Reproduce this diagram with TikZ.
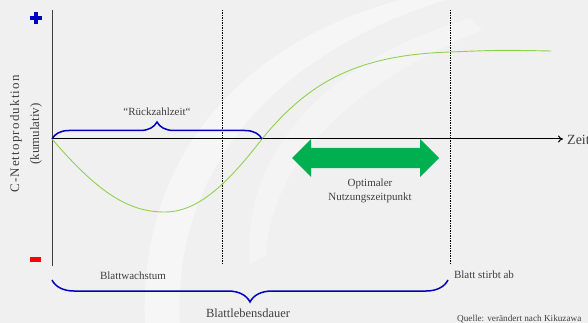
\documentclass[tikz,border=0pt]{standalone}
\usepackage{fontspec}
\setmainfont{Liberation Serif}
\usepackage{xcolor}
\usetikzlibrary{arrows.meta,positioning,calc,decorations.pathreplacing}
\definecolor{bgGray}{HTML}{F0F0F0}
\definecolor{braceBlue}{HTML}{0000C0}
\definecolor{curveGreen}{HTML}{92D050}
\definecolor{arrowGreen}{HTML}{00B050}
\definecolor{textGray}{HTML}{404040}
\tikzset{
  lbl/.style={
    text=textGray,
    font=\fontsize{11}{14}\selectfont,
    align=center,
    inner sep=0pt
  },
  bluebrace/.style={
    draw=braceBlue,
    line width=1.5pt,
    decorate,
    decoration={brace,amplitude=#1}
  },
  marker/.style={draw=black, line width=0.8pt, dash pattern=on 1.5pt off 1pt},
  axisline/.style={draw=textGray, line width=1pt},
  swoosh/.style={fill=white, opacity=0.4}
}

\begin{document}
\begin{tikzpicture}[x=1pt,y=-1pt]
  \fill[bgGray] (0,0) rectangle (588,323);
  \useasboundingbox (0,0) rectangle (588,323);
  % background swooshes
  \fill[swoosh] (145,323) .. controls (138,150) and (250,40) .. (400,0) -- (445,0)
    .. controls (285,50) and (172,160) .. (180,323) -- cycle;
  \fill[swoosh,opacity=0.3] (250,265) .. controls (240,150) and (330,60) .. (470,18) -- (482,30)
    .. controls (350,85) and (272,160) .. (266,255) -- cycle;
  % axes
  \coordinate (origin) at (52,139);
  \coordinate (ytop) at (52,10);
  \coordinate (ybot) at (52,266);
  \coordinate (xend) at (563,139);
  \draw[axisline] (ybot) -- (ytop);
  \draw[line width=1pt,-{To[length=5pt,width=7pt]}] (origin) -- (xend);
  \node[lbl,anchor=west,font=\fontsize{14}{16}\selectfont] (zeit) at (567,140) {Zeit};
  % plus / minus
  \draw[braceBlue,line width=4pt] (30,18) -- (42,18) (36,12) -- (36,24);
  \fill[red] (30,257) rectangle (41,261.5);
  \node[lbl,rotate=90,font=\fontsize{13}{20}\selectfont] (ylabel) at (26,134)
    {\addfontfeature{LetterSpace=9}C-Nettoproduktion\\(kumulativ)};
  % markers
  \coordinate (growend) at (222,10);
  \coordinate (death) at (450,10);
  \draw[marker] (growend) -- ++(0,255);
  \draw[marker] (death) -- ++(0,255);
  % carbon curve
  \draw[curveGreen,line width=0.9pt] (origin)
    .. controls (100,195) and (130,212) .. (165,212)
    .. controls (200,212) and (230,180) .. (262,139)
    .. controls (310,80) and (360,55) .. (450,52)
    .. controls (500,50) .. (551,51);
  % payback
  \coordinate (payback) at (262,139);
  \draw[bluebrace=17pt] (origin) -- (payback);
  \node[lbl] (rueck) at (157,112) {“Rückzahlzeit“};
  % optimum
  \fill[arrowGreen] (292,158) -- (311,139) -- (311,148) -- (420,148) -- (420,139)
    -- (439,158) -- (420,177) -- (420,168) -- (311,168) -- (311,177) -- cycle;
  \node[lbl] (optimum) at (370,191) {Optimaler\\Nutzungszeitpunkt};
  % lifetime
  \coordinate (lifeL) at (52,280);
  \coordinate (lifeR) at (448,280);
  \draw[bluebrace=22pt] (lifeR) -- (lifeL);
  \node[lbl] (wachstum) at (133,276) {Blattwachstum};
  \node[lbl] (stirbt) at (484,275) {Blatt stirbt ab};
  \node[lbl,font=\fontsize{12.5}{14}\selectfont] (dauer) at (248,313) {Blattlebensdauer};
  \node[lbl,anchor=west,font=\fontsize{9.2}{11}\selectfont] (quelle) at (457,319)
    {Quelle: verändert nach Kikuzawa};
\end{tikzpicture}
\end{document}
